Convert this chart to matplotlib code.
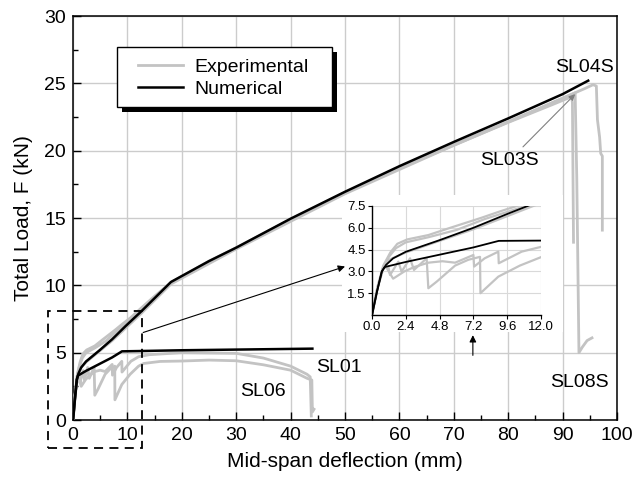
import numpy as np
import matplotlib.pyplot as plt
import matplotlib.patheffects as pe
from matplotlib.patches import Rectangle

plt.rcParams['font.family'] = ['Liberation Sans', 'DejaVu Sans']

# numerical (black)
num_a_x = [0, 0.35, 0.7, 1.0, 1.5, 2.4, 4.8, 7.2, 9.6, 12.5, 18, 25, 30, 40, 50, 60, 70, 80, 90, 94.7]
num_a_y = [0, 1.6, 3.0, 3.45, 3.9, 4.35, 5.15, 6.0, 6.95, 8.05, 10.25, 11.8, 12.8, 14.95, 16.95, 18.85, 20.65, 22.4, 24.2, 25.2]
num_b_x = [0, 0.35, 0.7, 0.9, 2.4, 4.8, 7.2, 9.0, 12, 20, 30, 44]
num_b_y = [0, 1.6, 3.0, 3.3, 3.65, 4.15, 4.65, 5.1, 5.12, 5.18, 5.23, 5.3]

# experimental (grey)
sl03s_x = [0, 0.4, 0.8, 1.3, 1.8, 2.5, 4.0, 5.4, 7.8, 9.0, 10.6, 12.5, 15, 18, 25, 30, 40, 50, 60, 70, 80, 88, 91.6, 91.8, 92.0]
sl03s_y = [0, 2.0, 3.4, 4.3, 4.9, 5.2, 5.5, 5.95, 6.7, 7.1, 7.6, 8.3, 9.2, 10.2, 11.8, 12.8, 14.9, 16.9, 18.7, 20.4, 22.1, 23.4, 24.0, 23.6, 13.2]
sl04s_x = [0, 0.4, 0.8, 1.2, 1.7, 2.4, 4.0, 6.0, 8.0, 10.6, 12.5, 18, 25, 30, 40, 50, 60, 70, 80, 90, 94, 95.6, 96.2, 96.4, 96.8, 97.0, 97.3, 97.3]
sl04s_y = [0, 1.9, 3.3, 4.0, 4.6, 5.0, 5.35, 5.85, 6.6, 7.4, 8.1, 10.2, 11.75, 12.75, 14.85, 16.85, 18.7, 20.45, 22.15, 23.9, 24.6, 24.9, 24.8, 22.3, 21.0, 19.8, 19.6, 14.1]
sl08s_x = [0, 0.4, 0.8, 1.2, 2.4, 4.8, 7.2, 9.6, 12.5, 18, 30, 50, 70, 85, 92.3, 92.6, 93.0, 93.6, 94.5, 95.4]
sl08s_y = [0, 1.8, 3.3, 3.8, 4.3, 5.1, 5.9, 6.8, 7.9, 10.1, 12.7, 16.8, 20.4, 23.0, 24.3, 18.0, 5.0, 5.4, 5.9, 6.1]
sl01_x = [0, 0.4, 0.8, 1.0, 1.5, 2.3, 3.0, 4.0, 5.0, 5.9, 7.2, 7.25, 8.0, 8.97, 9.0, 10.63, 12.05, 14, 20, 30, 35, 40, 43, 43.6, 43.8]
sl01_y = [0, 1.9, 3.2, 3.3, 2.5, 3.0, 3.3, 3.6, 3.7, 3.6, 4.13, 3.33, 3.9, 4.36, 3.56, 4.36, 4.7, 4.85, 5.0, 4.95, 4.6, 4.0, 3.4, 3.2, 0.3]
sl06_x = [0, 0.4, 0.8, 1.16, 1.28, 1.87, 2.1, 2.7, 2.98, 3.88, 4.0, 4.6, 5.9, 6.84, 7.67, 7.7, 8.97, 10.5, 12.05, 13, 16, 20, 25, 30, 35, 40, 43.0, 43.9, 44.0, 44.3]
sl06_y = [0, 1.9, 3.2, 3.33, 2.75, 3.67, 2.98, 3.9, 3.1, 3.9, 1.84, 2.3, 3.4, 3.8, 4.0, 1.5, 2.64, 3.4, 4.0, 4.2, 4.35, 4.38, 4.45, 4.4, 4.1, 3.7, 3.1, 2.97, 0.6, 0.8]

exp_curves = [(sl03s_x, sl03s_y), (sl04s_x, sl04s_y), (sl08s_x, sl08s_y),
              (sl01_x, sl01_y), (sl06_x, sl06_y)]
num_curves = [(num_a_x, num_a_y), (num_b_x, num_b_y)]

grey = '#c3c3c3'

fig = plt.figure(figsize=(6.35, 4.84), dpi=100)
ax = fig.add_axes([0.115, 0.1322, 0.8567, 0.8347])

for i, (x, y) in enumerate(exp_curves):
    ax.plot(x, y, color=grey, lw=2.0, zorder=3, label='Experimental' if i == 0 else None)
for i, (x, y) in enumerate(num_curves):
    ax.plot(x, y, color='black', lw=1.8, zorder=4, label='Numerical' if i == 0 else None)

ax.set_xlim(0, 100)
ax.set_ylim(0, 30)
ax.set_xticks(np.arange(0, 101, 10))
ax.set_yticks(np.arange(0, 31, 5))
ax.set_xticks(np.arange(5, 100, 10), minor=True)
ax.set_yticks(np.arange(2.5, 30, 5), minor=True)
ax.tick_params(which='major', direction='in', length=6, width=1, labelsize=14, pad=5)
ax.tick_params(which='minor', direction='in', length=3.5, width=1)
ax.grid(True, which='major', color='#cccccc', lw=1, zorder=0)
ax.set_axisbelow(True)
for s in ax.spines.values():
    s.set_linewidth(1.1)
ax.set_xlabel('Mid-span deflection (mm)', fontsize=15, labelpad=6)
ax.set_ylabel('Total Load, F (kN)', fontsize=15, labelpad=8)

# white area behind the inset
ax.add_patch(Rectangle((49.5, 6.5), 40.5, 10.2, facecolor='white', edgecolor='none', zorder=1))

# dashed zoom box
ax.add_patch(Rectangle((-4.6, -2.1), 17.3, 10.2, fill=False, edgecolor='black', lw=1.3,
                       linestyle=(0, (5, 3.5)), clip_on=False, zorder=5))

ax.annotate('', xy=(50, 11.4), xytext=(12.9, 6.5),
            arrowprops=dict(arrowstyle='-|>', color='black', lw=0.8, mutation_scale=10,
                            shrinkA=0, shrinkB=0), zorder=6)
ax.annotate('', xy=(73.5, 6.3), xytext=(73.5, 4.8),
            arrowprops=dict(arrowstyle='-|>', color='black', lw=0.8, mutation_scale=10,
                            shrinkA=0, shrinkB=0), zorder=6)
ax.annotate('SL03S', xy=(92.3, 24.2), xytext=(80.3, 19.3), ha='center', va='center', fontsize=14,
            arrowprops=dict(arrowstyle='-|>', color='#808080', lw=0.8, mutation_scale=9,
                            shrinkA=2, shrinkB=0))
ax.text(94, 26.2, 'SL04S', ha='center', va='center', fontsize=14)
ax.text(44.7, 3.9, 'SL01', ha='left', va='center', fontsize=14)
ax.text(35, 2.15, 'SL06', ha='center', va='center', fontsize=14)
ax.text(93, 2.8, 'SL08S', ha='center', va='center', fontsize=14)

# legend box with solid black drop shadow
box = Rectangle((0.0809, 0.775), 0.395, 0.1485, transform=ax.transAxes, facecolor='white',
                edgecolor='black', lw=1.0, zorder=9)
box.set_path_effects([pe.SimplePatchShadow(offset=(3.8, -3.8), shadow_rgbFace='black', alpha=1),
                      pe.Normal()])
ax.add_patch(box)
leg = ax.legend(loc='upper left', bbox_to_anchor=(0.1195, 0.896), fontsize=14, frameon=False,
                borderaxespad=0, borderpad=0, handlelength=2.3, handletextpad=0.62,
                labelspacing=0.25)
leg.set_zorder(10)

# inset
ins = fig.add_axes([372 / 635, 169 / 484, 169 / 635, 109 / 484])
for x, y in exp_curves:
    ins.plot(x, y, color=grey, lw=1.6)
for x, y in num_curves:
    ins.plot(x, y, color='black', lw=1.3)
ins.set_xlim(0, 12)
ins.set_ylim(0, 7.5)
ins.set_xticks(np.arange(0, 12.01, 2.4))
ins.set_yticks(np.arange(1.5, 7.51, 1.5))
ins.xaxis.set_major_formatter('{x:.1f}')
ins.yaxis.set_major_formatter('{x:.1f}')
ins.tick_params(direction='out', length=3, width=0.8, labelsize=9.5, pad=1.5)
ins.grid(True, color='#d9d9d9', lw=0.8)
ins.set_axisbelow(True)
ins.spines['top'].set_visible(False)
ins.spines['right'].set_visible(False)
for s in ('left', 'bottom'):
    ins.spines[s].set_linewidth(1.0)

fig.savefig('out.png', dpi=100)
